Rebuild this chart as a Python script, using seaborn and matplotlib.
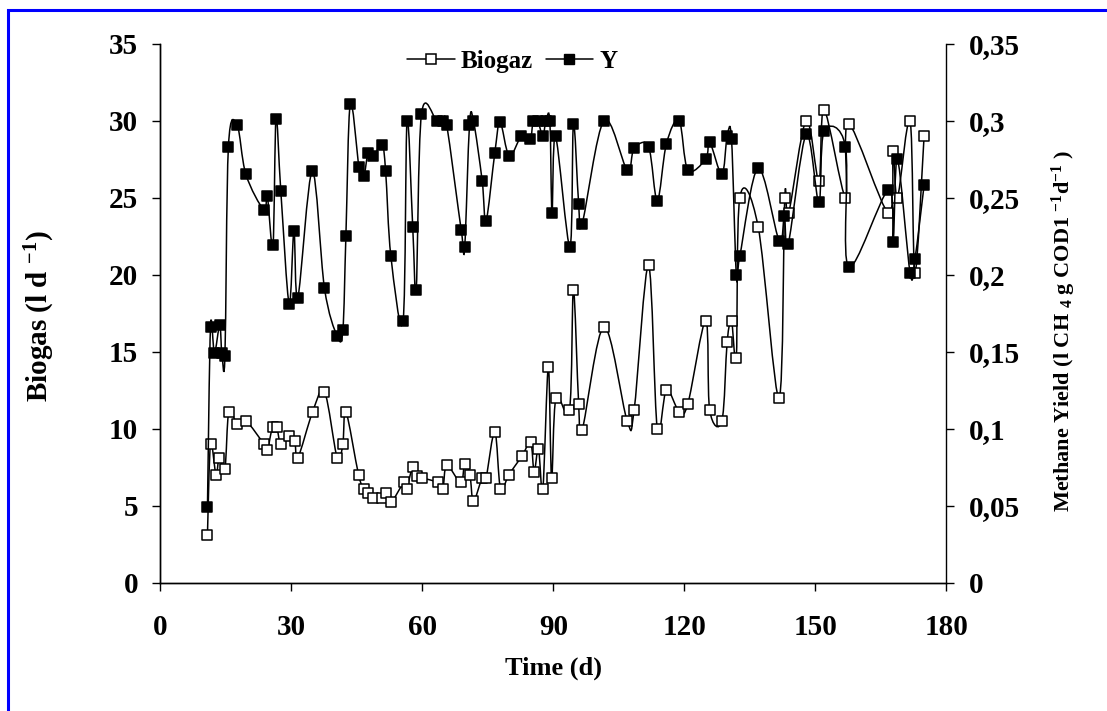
"""
Producción de biogás y rendimiento de metano frente al tiempo
"""

import numpy as np
import matplotlib
matplotlib.use('Agg')
import matplotlib.pyplot as plt
import seaborn as sns
from matplotlib.path import Path
from matplotlib.patches import PathPatch, Rectangle
from matplotlib.lines import Line2D

# Datos
dias_biogas = [10.8, 11.5, 12.75, 13.5, 14.8, 15.7, 17.6, 19.6, 23.7, 24.5,
               25.7, 26.65, 27.6, 29.5, 30.8, 31.5, 34.9, 37.6, 40.5, 41.8,
               42.5, 45.4, 46.6, 47.6, 48.6, 50.8, 51.7, 52.8, 55.8, 56.4,
               57.8, 58.7, 59.9, 63.5, 64.7, 65.6, 68.8, 69.7, 70.9, 71.7,
               73.7, 74.6, 76.6, 77.9, 79.8, 82.8, 84.8, 85.6, 86.6, 87.6,
               88.85, 89.6, 90.6, 93.7, 94.6, 95.8, 96.6, 101.6, 106.9, 108.5,
               111.8, 113.8, 115.9, 118.8, 120.8, 124.9, 125.8, 128.6, 129.8, 130.8,
               131.9, 132.7, 136.9, 141.7, 143.0, 143.9, 147.9, 150.8, 152.0, 156.9,
               157.6, 166.7, 167.8, 168.8, 171.7, 172.8, 174.9]
biogas = [3.1, 9.0, 7.0, 8.1, 7.4, 11.1, 10.3, 10.5, 9.0, 8.6,
          10.1, 10.1, 9.0, 9.5, 9.2, 8.1, 11.1, 12.4, 8.1, 9.0,
          11.1, 7.0, 6.1, 5.8, 5.5, 5.5, 5.8, 5.2, 6.5, 6.1,
          7.5, 6.9, 6.8, 6.5, 6.1, 7.6, 6.5, 7.7, 7.0, 5.3,
          6.8, 6.8, 9.8, 6.1, 7.0, 8.2, 9.1, 7.2, 8.7, 6.1,
          14.0, 6.8, 12.0, 11.2, 19.0, 11.6, 9.9, 16.6, 10.5, 11.2,
          20.6, 10.0, 12.5, 11.1, 11.6, 17.0, 11.2, 10.5, 15.6, 17.0,
          14.6, 25.0, 23.1, 12.0, 25.0, 24.0, 30.0, 26.1, 30.7, 25.0,
          29.8, 24.0, 28.0, 25.0, 30.0, 20.1, 29.0]

dias_y = [10.8, 11.5, 12.4, 13.6, 14.1, 14.8, 15.6, 17.6, 19.6, 23.7,
          24.5, 25.8, 26.5, 27.6, 29.5, 30.6, 31.5, 34.8, 37.6, 40.5,
          41.8, 42.5, 43.5, 45.5, 46.6, 47.6, 48.8, 50.8, 51.6, 52.8,
          55.6, 56.5, 57.8, 58.6, 59.8, 63.3, 64.7, 65.6, 68.9, 69.7,
          70.8, 71.7, 73.7, 74.6, 76.6, 77.8, 79.9, 82.7, 84.7, 85.4,
          86.4, 87.6, 88.3, 89.2, 89.7, 90.5, 93.8, 94.6, 95.8, 96.6,
          101.6, 106.9, 108.5, 111.8, 113.8, 115.9, 118.8, 120.8, 124.9, 125.8,
          128.6, 129.8, 130.8, 131.9, 132.7, 136.9, 141.7, 142.9, 143.8, 147.9,
          150.8, 152.0, 156.9, 157.6, 166.7, 167.8, 168.8, 171.7, 172.8, 174.9]
rendimiento_y = [0.049, 0.166, 0.149, 0.167, 0.149, 0.147, 0.283, 0.297, 0.265, 0.242,
                 0.251, 0.219, 0.301, 0.254, 0.181, 0.228, 0.185, 0.267, 0.191, 0.160,
                 0.164, 0.225, 0.311, 0.270, 0.264, 0.279, 0.277, 0.284, 0.267, 0.212,
                 0.170, 0.300, 0.231, 0.190, 0.304, 0.300, 0.300, 0.297, 0.229, 0.218,
                 0.297, 0.300, 0.261, 0.235, 0.279, 0.299, 0.277, 0.290, 0.288, 0.300,
                 0.300, 0.290, 0.300, 0.300, 0.240, 0.290, 0.218, 0.298, 0.246, 0.233,
                 0.300, 0.268, 0.282, 0.283, 0.248, 0.285, 0.300, 0.268, 0.275, 0.286,
                 0.265, 0.290, 0.288, 0.200, 0.212, 0.269, 0.222, 0.238, 0.220, 0.291,
                 0.247, 0.293, 0.283, 0.205, 0.255, 0.221, 0.275, 0.201, 0.210, 0.258]

ticks_x = [0, 30, 60, 90, 120, 150, 180]
ticks_y1 = [0, 5, 10, 15, 20, 25, 30, 35]
ticks_y2 = [0, 0.05, 0.1, 0.15, 0.2, 0.25, 0.3, 0.35]
etiquetas_y2 = ['0', '0,05', '0,1', '0,15', '0,2', '0,25', '0,3', '0,35']


def curva_suave(x, y):
    """Trayecto suavizado (tipo Excel) que pasa por los puntos"""
    pts = np.column_stack([x, y])
    n = len(pts)
    verts = [pts[0]]
    codes = [Path.MOVETO]
    for i in range(n - 1):
        p0 = pts[i - 1] if i > 0 else pts[i]
        p1 = pts[i]
        p2 = pts[i + 1]
        p3 = pts[i + 2] if i + 2 < n else pts[i + 1]
        verts += [p1 + (p2 - p0) / 6, p2 - (p3 - p1) / 6, p2]
        codes += [Path.CURVE4] * 3
    return Path(verts, codes)


sns.set_theme(style='white')
plt.rcParams['font.family'] = ['Liberation Serif', 'DejaVu Serif']
plt.rcParams['font.weight'] = 'bold'
plt.rcParams['axes.labelweight'] = 'bold'
plt.rcParams['text.color'] = 'black'
plt.rcParams['axes.labelcolor'] = 'black'
plt.rcParams['xtick.color'] = 'black'
plt.rcParams['ytick.color'] = 'black'
plt.rcParams['mathtext.fontset'] = 'custom'
plt.rcParams['mathtext.rm'] = 'Liberation Serif:bold'
plt.rcParams['mathtext.it'] = 'Liberation Serif:bold'
plt.rcParams['mathtext.bf'] = 'Liberation Serif:bold'
plt.rcParams['mathtext.default'] = 'rm'

fig = plt.figure(figsize=(11.07, 7.11), dpi=100)
ax = fig.add_axes([0.1448, 0.1807, 0.7101, 0.7581])
ax2 = ax.twinx()

tam_ticks = 21
lw = 1.1

# Serie Biogaz (eje izquierdo)
ax.add_patch(PathPatch(curva_suave(dias_biogas, biogas), fill=False,
                       edgecolor='black', lw=lw, zorder=2))
sns.scatterplot(x=dias_biogas, y=biogas, marker='s', s=50, color='white',
                edgecolor='black', linewidth=1.1, ax=ax, zorder=3, legend=False)

# Serie Y (eje derecho)
ax2.add_patch(PathPatch(curva_suave(dias_y, rendimiento_y), fill=False,
                        edgecolor='black', lw=lw, zorder=2))
sns.scatterplot(x=dias_y, y=rendimiento_y, marker='s', s=50, color='black',
                edgecolor='black', linewidth=1.1, ax=ax2, zorder=3, legend=False)

ax.set_xlim(0, 180)
ax.set_ylim(0, 35)
ax2.set_ylim(0, 0.35)
ax.set_xticks(ticks_x)
ax.set_yticks(ticks_y1)
ax2.set_yticks(ticks_y2)
ax2.set_yticklabels(etiquetas_y2)

for a in (ax, ax2):
    a.spines['top'].set_visible(False)
    for s in a.spines.values():
        s.set_color('black')
        s.set_linewidth(1.0)
    a.grid(False)
ax.spines['right'].set_visible(False)

ax.tick_params(axis='x', direction='out', length=6, width=1, pad=17,
               labelsize=tam_ticks, bottom=True)
ax.tick_params(axis='y', direction='out', length=6, width=1, pad=10,
               labelsize=tam_ticks, left=True)
ax2.tick_params(axis='y', direction='out', length=6, width=1, pad=10,
                labelsize=tam_ticks, right=True)

ax.set_xlabel('Time (d)', fontsize=19, va='center')
ax.xaxis.set_label_coords(0.5, -0.159)
ax.set_ylabel('Biogas (l d $^{-1}$)', fontsize=21, va='center')
ax.yaxis.set_label_coords(-0.153, 0.495)
ax2.set_ylabel('Methane Yield (l CH $_{4}$ g COD1 $^{-1}$d$^{-1}$ )',
               fontsize=16, va='center', rotation=90)
ax2.yaxis.set_label_coords(1.149, 0.467)

# Leyenda
handles = [
    Line2D([], [], color='black', lw=lw, marker='s', markersize=7,
           markerfacecolor='white', markeredgecolor='black', markeredgewidth=1.1),
    Line2D([], [], color='black', lw=lw, marker='s', markersize=7,
           markerfacecolor='black', markeredgecolor='black'),
]
ax.legend(handles, ['Biogaz', 'Y'], loc='upper center', bbox_to_anchor=(0.448, 1.03),
          ncol=2, frameon=False, fontsize=18, handlelength=1.9, handletextpad=0.25,
          columnspacing=0.5, numpoints=1)

# Marco azul alrededor de la figura
fig.add_artist(Rectangle((7.5 / 1107, -0.1), 2, 1.1 - 9.5 / 711,
                         transform=fig.transFigure, fill=False,
                         edgecolor='#0000FF', lw=2.2, clip_on=False))

plt.savefig('out.png', dpi=100)
plt.close()
